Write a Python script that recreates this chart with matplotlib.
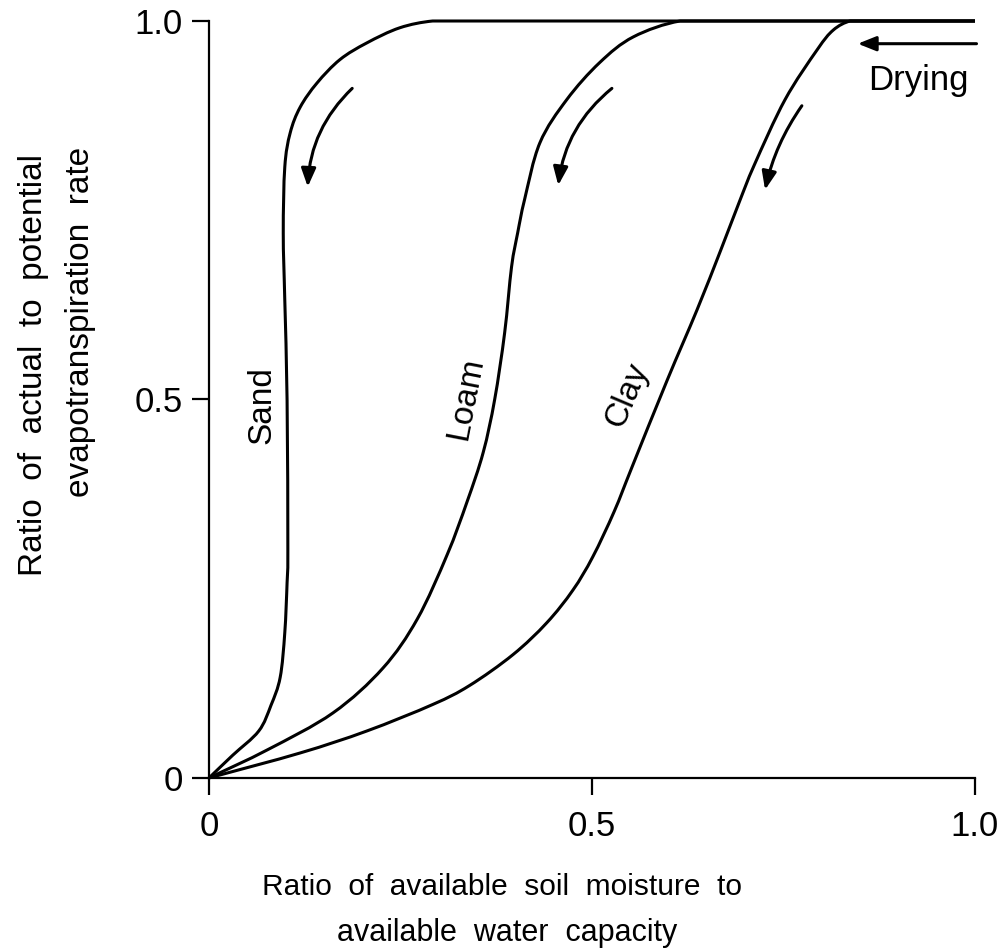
import numpy as np
import matplotlib.pyplot as plt
from matplotlib.patches import FancyArrowPatch, PathPatch
from matplotlib.path import Path

plt.rcParams['font.family'] = ['Liberation Sans', 'DejaVu Sans']

# curves (x = available moisture ratio, y = AET/PET)
sand_x = [0, 0.031, 0.065, 0.081, 0.093, 0.099, 0.102, 0.103, 0.102, 0.099, 0.097, 0.099, 0.106, 0.119, 0.141, 0.171, 0.206, 0.249, 0.292, 1.0]
sand_y = [0, 0.030, 0.062, 0.096, 0.133, 0.192, 0.258, 0.301, 0.499, 0.631, 0.720, 0.807, 0.852, 0.886, 0.918, 0.949, 0.971, 0.991, 1.0, 1.0]
loam_x = [0, 0.076, 0.162, 0.227, 0.272, 0.311, 0.337, 0.358, 0.373, 0.386, 0.395, 0.403, 0.412, 0.432, 0.467, 0.510, 0.554, 0.615, 1.0]
loam_y = [0, 0.037, 0.086, 0.145, 0.210, 0.295, 0.365, 0.430, 0.500, 0.588, 0.675, 0.720, 0.764, 0.839, 0.896, 0.945, 0.979, 1.0, 1.0]
clay_x = [0, 0.119, 0.206, 0.292, 0.340, 0.397, 0.441, 0.475, 0.501, 0.529, 0.552, 0.598, 0.637, 0.668, 0.692, 0.712, 0.752, 0.794, 0.815, 0.837, 1.0]
clay_y = [0, 0.033, 0.062, 0.097, 0.122, 0.163, 0.205, 0.248, 0.292, 0.352, 0.410, 0.525, 0.618, 0.697, 0.760, 0.810, 0.896, 0.962, 0.988, 1.0, 1.0]

names = ["Sand", "Loam", "Clay"]
name_pos = [(0.069, 0.493), (0.335, 0.501), (0.546, 0.506)]
name_rot = [90, 79, 67]
# drying arrows (start, end) along each curve
arrows = [((0.187, 0.911), (0.129, 0.781)), ((0.526, 0.911), (0.456, 0.783)), ((0.774, 0.888), (0.726, 0.777))]
ticks = [0, 0.5, 1.0]
tick_labels = ["0", "0.5", "1.0"]


def smooth_path(xs, ys):
    # bezier through the read points, flat run to x=1 at the end
    p = np.column_stack([xs[:-1], ys[:-1]])
    n = len(p)
    prev = 2 * p[0] - p[1]
    nxt = np.array([2 * p[-1][0] - p[-2][0], p[-1][1]])
    ext = np.vstack([prev, p, nxt])
    verts = [p[0]]
    codes = [Path.MOVETO]
    for i in range(n - 1):
        p0, p1, p2, p3 = ext[i], ext[i + 1], ext[i + 2], ext[i + 3]
        verts += [p1 + (p2 - p0) / 6, p2 - (p3 - p1) / 6, p2]
        codes += [Path.CURVE4] * 3
    verts.append([xs[-1], ys[-1]])
    codes.append(Path.LINETO)
    return Path(verts, codes)


fig = plt.figure(figsize=(10.07, 9.5), dpi=100)
ax = fig.add_axes([0.2075, 0.1811, 0.7607, 0.7968])
for xs, ys in [(sand_x, sand_y), (loam_x, loam_y), (clay_x, clay_y)]:
    ax.add_patch(PathPatch(smooth_path(xs, ys), fill=False, edgecolor="black", lw=2.2, clip_on=False))
ax.set_xlim(0, 1)
ax.set_ylim(0, 1)
ax.spines["top"].set_visible(False)
ax.spines["right"].set_visible(False)
for s in ["left", "bottom"]:
    ax.spines[s].set_linewidth(1.6)
ax.set_xticks(ticks, tick_labels)
ax.set_yticks(ticks, tick_labels)
ax.tick_params(direction="out", length=12, width=1.6, labelsize=25)
ax.tick_params(axis="x", pad=11)
ax.tick_params(axis="y", pad=7)

for i in range(3):
    ax.text(name_pos[i][0], name_pos[i][1], names[i], rotation=name_rot[i], fontsize=24,
            ha="center", va="center", rotation_mode="anchor")
for (x0, y0), (x1, y1) in arrows:
    rad = 0.1 if x0 > 0.7 else 0.2
    ax.add_patch(FancyArrowPatch((x0, y0), (x1, y1), connectionstyle="arc3,rad=%g" % rad,
                                 arrowstyle="-|>,head_length=0.55,head_width=0.22", mutation_scale=20,
                                 lw=2.2, color="black", shrinkA=0, shrinkB=0))
ax.add_patch(FancyArrowPatch((1.002, 0.970), (0.847, 0.970), arrowstyle="-|>,head_length=0.55,head_width=0.22",
                             mutation_scale=20, lw=2.2, color="black", shrinkA=0, shrinkB=0, clip_on=False))
ax.text(0.926, 0.922, "Drying", fontsize=25, ha="center", va="center", clip_on=False)

fig.text(0.0417, 0.6158, "Ratio  of  actual  to  potential", rotation=90, fontsize=24,
         ha="center", va="baseline", rotation_mode="anchor")
fig.text(0.0884, 0.661, "evapotranspiration  rate", rotation=90, fontsize=24,
         ha="center", va="baseline", rotation_mode="anchor")
fig.text(0.4985, 0.0579, "Ratio  of  available  soil  moisture  to", fontsize=21.5, ha="center", va="baseline")
fig.text(0.5035, 0.0095, "available  water  capacity", fontsize=22, ha="center", va="baseline")

plt.savefig("out.png", dpi=100)
